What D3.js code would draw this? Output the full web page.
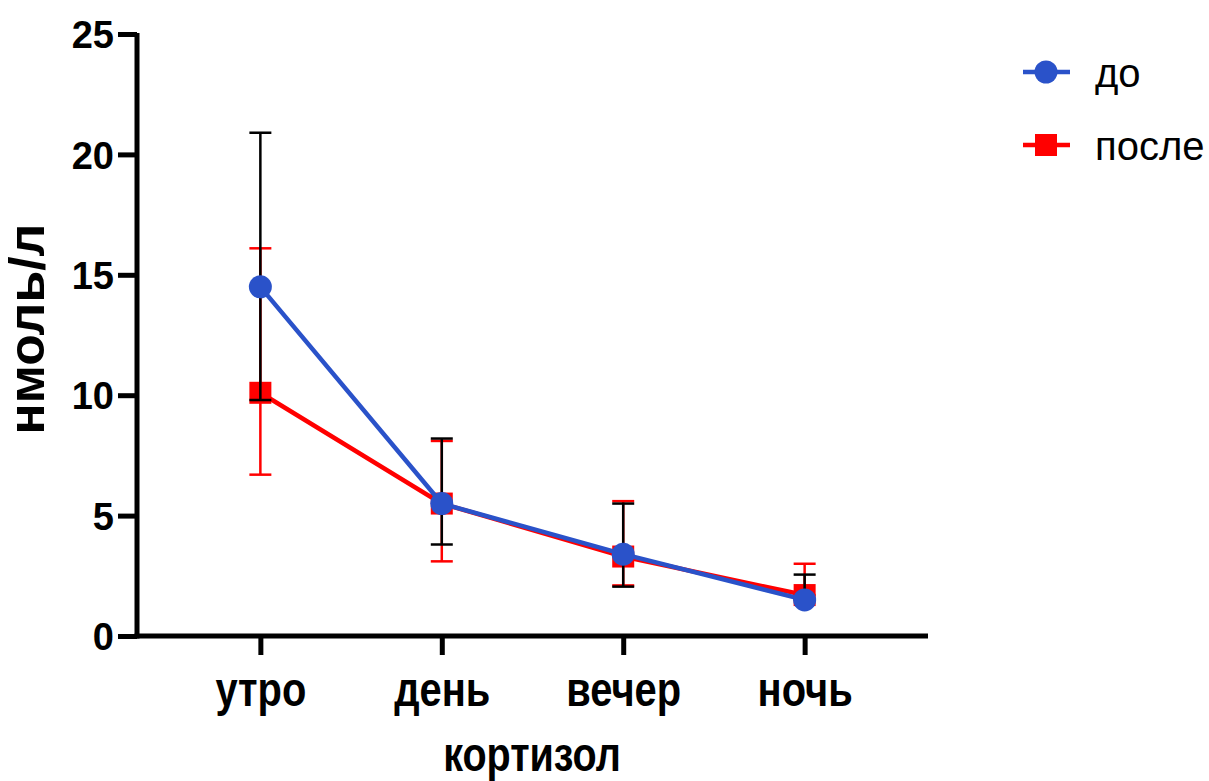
<!DOCTYPE html>
<html><head><meta charset="utf-8">
<script src="https://cdn.jsdelivr.net/npm/d3@7"></script>
<style>body{margin:0;background:#fff;} svg{display:block;}</style>
</head><body>
<svg id="chart" width="1209" height="781"></svg>
<script>
const categories = ["утро", "день", "вечер", "ночь"];
const seriesNames = ["до", "после"];
const beforeMean = [14.5, 5.5, 3.4, 1.5];
const beforeUpper = [20.9, 8.2, 5.5, 2.55];
const beforeLower = [9.8, 3.8, 2.05, 1.5];
const afterMean = [10.1, 5.5, 3.3, 1.7];
const afterUpper = [16.1, 8.1, 5.6, 3.0];
const afterLower = [6.7, 3.1, 2.1, 1.7];
const yTicks = [0, 5, 10, 15, 20, 25];
const xTitle = "кортизол";
const yTitle = "нмоль/л";

const blue = "#2a52c9", red = "#ff0000";
const svg = d3.select("#chart");
const x = d3.scalePoint().domain(categories).range([137, 928]).padding(0.68);
const y = d3.scaleLinear().domain([0, 25]).range([636, 34]);
const font = "'Liberation Sans', Arial, sans-serif";

// axes
const yAxis = svg.append("g").attr("transform", "translate(137,0)")
  .call(d3.axisLeft(y).tickValues(yTicks).tickSize(19).tickSizeOuter(0).tickPadding(4));
const xAxis = svg.append("g").attr("transform", "translate(0,636)")
  .call(d3.axisBottom(x).tickSize(19).tickSizeOuter(0).tickPadding(26));
[yAxis, xAxis].forEach(g => {
  g.select(".domain").attr("stroke", "#000").attr("stroke-width", 5);
  g.selectAll(".tick line").attr("stroke", "#000").attr("stroke-width", 5);
  g.selectAll("text").attr("fill", "#000").attr("font-family", font)
    .attr("font-weight", "bold").attr("font-size", 38);
});
xAxis.select(".domain").attr("d", `M134.5,0H928`);
yAxis.select(".domain").attr("d", `M0,${y(25) - 1}V${y(0) + 2.5}`);
yAxis.selectAll("text").attr("dy", "0.36em");
xAxis.selectAll("text").attr("y", 0).attr("dy", null)
  .attr("transform", "translate(0,70) scale(1.05,1.27)");

svg.append("text").attr("transform", "translate(532,771) scale(1.04,1.27)").attr("text-anchor", "middle")
  .attr("font-family", font).attr("font-weight", "bold").attr("font-size", 38).text(xTitle);
svg.append("text").attr("transform", "translate(44,329) rotate(-90) scale(1.36,1.3)").attr("text-anchor", "middle")
  .attr("font-family", font).attr("font-weight", "bold").attr("font-size", 38).text(yTitle);

const line = d3.line().x((d, i) => x(categories[i])).y(d => y(d));

function errorBars(lower, upper, color) {
  const g = svg.append("g").attr("stroke", color).attr("stroke-width", 2.5);
  categories.forEach((c, i) => {
    g.append("line").attr("x1", x(c)).attr("x2", x(c)).attr("y1", y(lower[i])).attr("y2", y(upper[i]));
    [lower[i], upper[i]].forEach(v => g.append("line")
      .attr("x1", x(c) - 11).attr("x2", x(c) + 11).attr("y1", y(v)).attr("y2", y(v)));
  });
}

svg.append("path").datum(afterMean).attr("d", line).attr("fill", "none").attr("stroke", red).attr("stroke-width", 4.5);
errorBars(afterLower, afterUpper, red);
svg.append("g").selectAll("rect").data(afterMean).join("rect")
  .attr("x", (d, i) => x(categories[i]) - 11).attr("y", d => y(d) - 11)
  .attr("width", 22).attr("height", 22).attr("fill", red);

svg.append("path").datum(beforeMean).attr("d", line).attr("fill", "none").attr("stroke", blue).attr("stroke-width", 4.5);
errorBars(beforeLower, beforeUpper, "#000");
svg.append("g").selectAll("circle").data(beforeMean).join("circle")
  .attr("cx", (d, i) => x(categories[i])).attr("cy", d => y(d)).attr("r", 11.5).attr("fill", blue);

// legend
const legend = svg.append("g");
const items = [{name: seriesNames[0], color: blue, shape: "circle", yy: 72},
               {name: seriesNames[1], color: red, shape: "rect", yy: 145}];
items.forEach(it => {
  legend.append("line").attr("x1", 1023).attr("x2", 1070).attr("y1", it.yy).attr("y2", it.yy)
    .attr("stroke", it.color).attr("stroke-width", 4.5);
  if (it.shape === "circle") legend.append("circle").attr("cx", 1046).attr("cy", it.yy).attr("r", 11.5).attr("fill", it.color);
  else legend.append("rect").attr("x", 1035).attr("y", it.yy - 11).attr("width", 22).attr("height", 22).attr("fill", it.color);
  legend.append("text").attr("x", 1095).attr("y", it.yy + 15).attr("font-family", font)
    .attr("font-size", 40).attr("fill", "#000").text(it.name);
});
</script>
</body></html>
